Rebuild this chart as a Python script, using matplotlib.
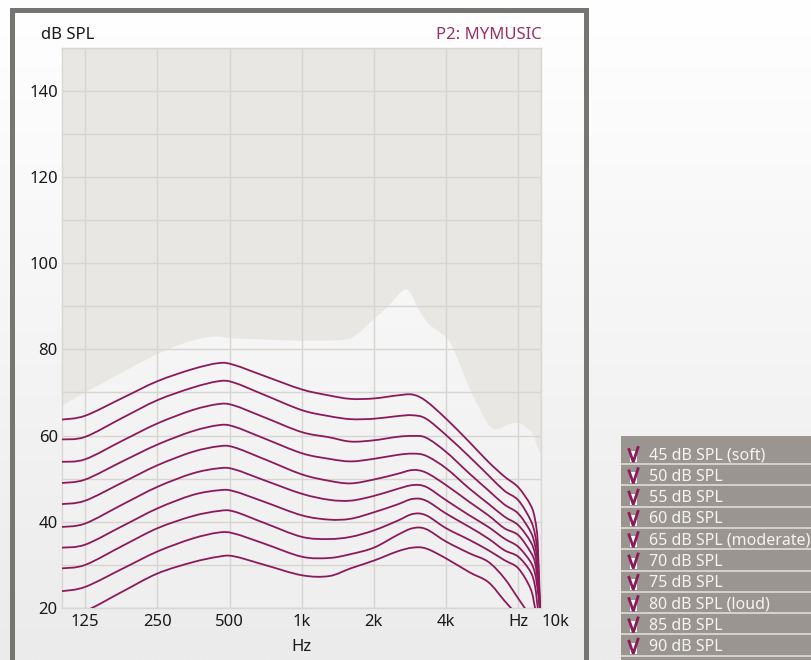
import numpy as np
import matplotlib
matplotlib.use('Agg')
import matplotlib.pyplot as plt
from matplotlib.colors import LinearSegmentedColormap
from matplotlib.patches import Rectangle, PathPatch
from matplotlib.path import Path
from matplotlib.ticker import MultipleLocator, NullLocator, FixedLocator

plt.rcParams['font.family'] = ['Noto Sans', 'DejaVu Sans']

# frequencies (Hz) shared by all output curves
freqs = [100, 125, 180, 250, 350, 450, 520, 700, 1000, 1300, 1600, 2000,
         2500, 2900, 3300, 4000, 5000, 6000, 7000, 8000, 9000, 9400, 9650, 9850]

# output dB SPL for each input level
spl_90 = [63.7, 64.6, 68.8, 72.6, 75.4, 76.8, 76.4, 73.8, 70.7, 69.3, 68.5, 68.6,
          69.3, 69.5, 68.0, 63.9, 58.5, 53.9, 50.5, 48.0, 43.9, 40.5, 35.0, 20.0]
spl_85 = [59.1, 59.7, 64.2, 68.2, 71.1, 72.6, 72.3, 69.4, 65.9, 64.5, 63.8, 63.9,
          64.5, 64.7, 63.9, 60.1, 55.1, 50.8, 47.2, 45.0, 40.4, 37.0, 32.0, 20.0]
spl_80 = [53.9, 54.5, 58.9, 62.8, 65.9, 67.3, 67.0, 64.2, 60.8, 59.6, 58.6, 58.9,
          59.7, 59.9, 59.5, 56.2, 51.2, 47.3, 44.0, 41.9, 37.7, 34.5, 30.0, 20.0]
spl_75 = [49.0, 49.8, 54.1, 57.9, 61.0, 62.4, 62.1, 59.3, 55.9, 54.6, 54.0, 54.6,
          55.5, 55.8, 55.3, 52.4, 47.7, 44.2, 41.2, 39.2, 35.4, 32.5, 28.0, 20.0]
spl_70 = [44.1, 44.9, 49.2, 53.1, 56.2, 57.5, 57.3, 54.5, 51.0, 49.5, 48.9, 49.8,
          51.1, 52.0, 51.4, 48.5, 44.6, 41.5, 38.5, 36.9, 33.0, 30.5, 26.0, 20.0]
spl_65 = [38.8, 39.6, 44.1, 48.1, 51.2, 52.4, 52.2, 49.6, 46.5, 45.1, 44.9, 46.0,
          47.6, 48.5, 48.1, 45.0, 41.5, 38.8, 36.1, 34.2, 30.7, 28.0, 24.0, 20.0]
spl_60 = [34.0, 34.7, 39.1, 43.1, 46.2, 47.3, 47.1, 44.6, 41.5, 40.5, 40.7, 42.2,
          44.0, 45.3, 44.9, 41.9, 38.8, 36.1, 33.4, 31.9, 28.4, 25.0, 20.0, 17.0]
spl_55 = [29.2, 30.0, 34.5, 38.5, 41.3, 42.5, 42.4, 39.7, 36.5, 36.0, 36.5, 38.0,
          40.2, 41.8, 41.5, 38.5, 35.8, 33.4, 31.1, 29.2, 24.5, 20.0, 17.0, 14.0]
spl_50 = [23.9, 24.9, 29.2, 33.1, 36.1, 37.5, 37.3, 34.9, 31.9, 31.6, 32.5, 34.0,
          36.9, 38.5, 38.3, 35.4, 32.7, 30.7, 26.9, 22.2, 18.0, 16.0, 14.0, 12.0]
spl_45 = [18.3, 19.3, 23.9, 28.0, 30.6, 31.9, 32.0, 30.0, 27.6, 27.4, 29.2, 31.0,
          33.1, 34.0, 33.8, 31.5, 28.3, 26.0, 21.7, 18.0, 14.0, 12.0, 10.0, 8.0]

# lower edge of the shaded (grey) region
grey_freqs = [100, 125, 250, 350, 440, 500, 600, 1000, 1500, 1700, 2000, 2300, 2650,
              2830, 3070, 3380, 3840, 4160, 4650, 5100, 5800, 6200, 6600, 7200, 7800,
              8300, 8800, 9200, 9600, 10000]
grey_db = [66.8, 70.0, 78.9, 82.0, 83.0, 82.6, 82.4, 82.0, 82.2, 83.5, 87.0, 90.1, 93.7,
           93.2, 89.3, 85.9, 83.6, 81.6, 75.4, 70.0, 63.9, 61.8, 61.5, 62.5, 62.9,
           62.6, 61.5, 60.4, 57.5, 55.5]

xtick_vals = [125, 250, 500, 1000, 2000, 4000, 8000, 10000]
xtick_labels = ['125', '250', '500', '1k', '2k', '4k', 'Hz', '10k']
ytick_vals = [20, 40, 60, 80, 100, 120, 140]

legend_labels = ['45 dB SPL (soft)', '50 dB SPL', '55 dB SPL', '60 dB SPL',
                 '65 dB SPL (moderate)', '70 dB SPL', '75 dB SPL', '80 dB SPL (loud)',
                 '85 dB SPL', '90 dB SPL']

curves = [spl_45, spl_50, spl_55, spl_60, spl_65, spl_70, spl_75, spl_80, spl_85, spl_90]

W, H = 812, 660
purple = '#8c1a5b'


def smooth_path(xs, ys):
    # bezier through the points (catmull-rom), built in log-frequency space
    lx = np.log10(np.asarray(xs, float))
    y = np.asarray(ys, float)
    p = np.column_stack([lx, y])
    p = np.vstack([p[0], p, p[-1]])
    verts = [p[1]]
    codes = [Path.MOVETO]
    for i in range(1, len(p) - 2):
        c1 = p[i] + (p[i + 1] - p[i - 1]) / 6
        c2 = p[i + 1] - (p[i + 2] - p[i]) / 6
        verts += [c1, c2, p[i + 1]]
        codes += [Path.CURVE4] * 3
    verts = np.array(verts)
    verts[:, 0] = 10 ** verts[:, 0]
    return verts, codes


fig = plt.figure(figsize=(W / 100, H / 100), dpi=100)

# page background gradient
bg = fig.add_axes([0, 0, 1, 1], zorder=-10)
bg.imshow(np.linspace(0, 1, 256).reshape(-1, 1), aspect='auto', extent=[0, 1, 0, 1],
          cmap=LinearSegmentedColormap.from_list('bg', ['#ffffff', '#ebebeb']))
bg.axis('off')

# outer frame (open at the bottom)
fr = Rectangle((12.5 / W, -0.05), 574 / W, (H - 9.5) / H + 0.05, transform=fig.transFigure,
               fill=False, edgecolor='#777571', linewidth=3.6)
fig.patches.append(fr)

ax = fig.add_axes([62 / W, 1 - 608 / H, (541.5 - 62) / W, (608 - 47.5) / H])
ax.set_xscale('log')
ax.set_xlim(100, 10000)
ax.set_ylim(20, 150)

ax.imshow(np.linspace(0, 1, 256).reshape(-1, 1), aspect='auto', extent=[0, 1, 0, 1],
          transform=ax.transAxes, zorder=0.5,
          cmap=LinearSegmentedColormap.from_list('pl', ['#fdfdfd', '#efefef']))

gv, gc = smooth_path(grey_freqs, grey_db)
gv = np.vstack([gv, [[10000, 150], [100, 150], [100, 150]]])
gc = gc + [Path.LINETO, Path.LINETO, Path.CLOSEPOLY]
ax.add_patch(PathPatch(Path(gv, gc), facecolor='#e9e7e3', lw=0, zorder=1))

for vals in curves:
    v, c = smooth_path(freqs, vals)
    ax.add_patch(PathPatch(Path(v, c), fill=False, edgecolor=purple, lw=1.3, zorder=3))

ax.set_xlim(100, 10000)
ax.set_ylim(20, 150)
ax.xaxis.set_major_locator(FixedLocator(xtick_vals))
ax.set_xticklabels(xtick_labels)
ax.xaxis.set_minor_locator(NullLocator())
ax.set_yticks(ytick_vals)
ax.yaxis.set_minor_locator(MultipleLocator(10))
ax.set_axisbelow('line')
ax.grid(which='both', color='#d7d5d1', lw=1.0)
ax.tick_params(which='both', length=0, labelsize=12, colors='#1a1a1a')
ax.tick_params(axis='y', pad=3)
ax.tick_params(axis='x', pad=4)
ax.get_xticklabels()[-1].set_ha('left')
for s in ax.spines.values():
    s.set_color('#d9d7d3')
    s.set_linewidth(1.0)

fig.text(41 / W, 1 - 35 / H, 'dB SPL', ha='left', va='center', fontsize=12, color='#1a1a1a')
fig.text(542 / W, 1 - 35 / H, 'P2: MYMUSIC', ha='right', va='center', fontsize=12,
         color='#9c2f6a')
fig.text(301 / W, 1 - 647 / H, 'Hz', ha='center', va='center', fontsize=12, color='#1a1a1a')

# level list panel on the right
lg = fig.add_axes([621 / W, 0, (W - 621) / W, (H - 436) / H])
lg.set_xlim(0, W - 621)
lg.set_ylim(H - 436, 0)
lg.axis('off')
lg.add_patch(Rectangle((0, 0), W - 621, H - 436, color='#9a9590', lw=0))
for i, lab in enumerate(legend_labels):
    sep = 28 + 21.3 * i
    lg.plot([0, W - 621], [sep, sep], color='#d6d3cf', lw=1.4)
    lg.add_patch(Rectangle((9, sep - 13), 7, 11, color='white', lw=0))
    lg.plot([8.0, 12.3, 17.0], [sep - 14.5, sep - 2.0, sep - 16.5], color=purple, lw=2.0,
            solid_joinstyle='miter')
    lg.text(28, sep - 4.7, lab, ha='left', va='baseline', fontsize=11.5, color='#f4f4f4')

fig.savefig('out.png', dpi=100)
